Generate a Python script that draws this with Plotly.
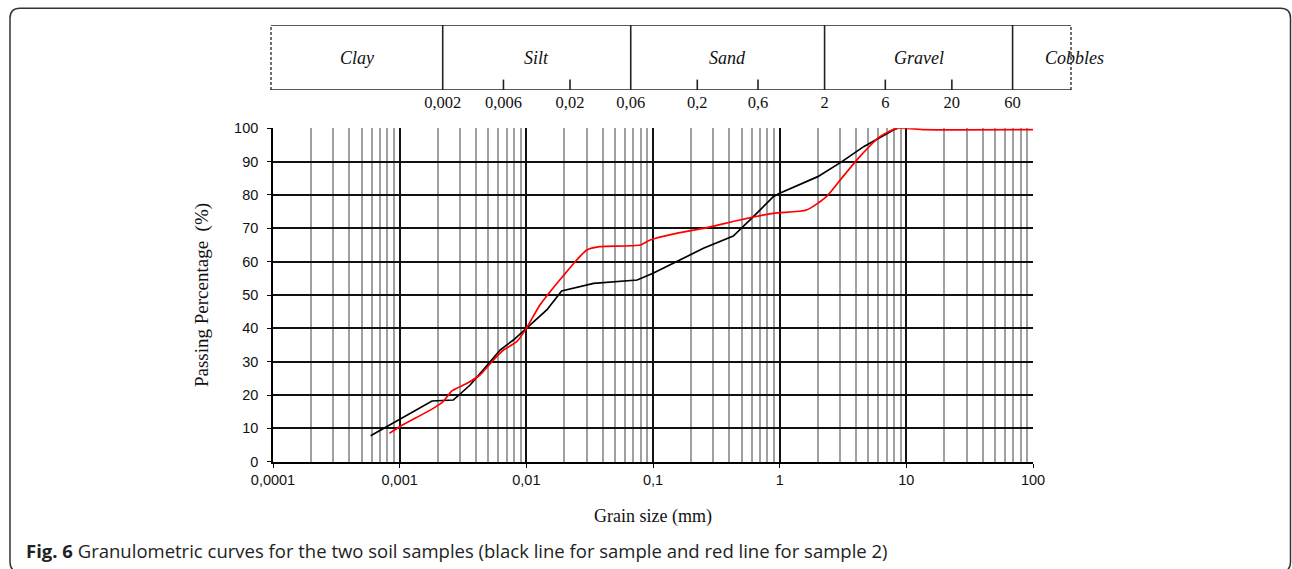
import numpy as np
import plotly.graph_objects as go

# ---------------- data ----------------
sample1_size = [0.00059, 0.0018, 0.00265, 0.0036, 0.0052, 0.0062, 0.0079, 0.01, 0.0145, 0.019,
                0.034, 0.075, 0.1, 0.25, 0.43, 0.62, 0.89, 1.0, 2.0, 3.1, 4.6, 7.9, 8.5]
sample1_pass = [7.8, 18.2, 18.5, 23, 30, 33.5, 36.5, 40, 45.5, 51.2,
                53.5, 54.5, 56.5, 64, 67.7, 73.5, 79.5, 80.5, 85.5, 90, 94.5, 99.5, 100]

sample2_size = [0.00083, 0.001, 0.00184, 0.0022, 0.0026, 0.0034, 0.0043, 0.0055, 0.0066, 0.0084,
                0.01, 0.0113, 0.0128, 0.0158, 0.0195, 0.025, 0.03, 0.038, 0.079, 0.095, 0.153,
                0.25, 0.485, 0.89, 1.63, 2.34, 3.16, 4.29, 6.18, 8.4, 14, 100]
sample2_pass = [8.5, 10.5, 16, 18, 21.3, 23.5, 26, 30.5, 33.5, 36,
                40, 43.5, 47, 51.5, 55.7, 60.5, 63.5, 64.5, 65, 66.5, 68.5,
                70, 72.5, 74.5, 75.5, 79.5, 85.5, 91.5, 97.5, 100, 99.6, 99.6]

x_tickvals = [0.0001, 0.001, 0.01, 0.1, 1, 10, 100]
x_ticktext = ["0,0001", "0,001", "0,01", "0,1", "1", "10", "100"]
y_tickvals = [0, 10, 20, 30, 40, 50, 60, 70, 80, 90, 100]

class_names = ["Clay", "Silt", "Sand", "Gravel", "Cobbles"]
class_bounds = [0.002, 0.06, 2, 60]
band_ticks = [0.006, 0.02, 0.2, 0.6, 6, 20]
band_tickvals = [0.002, 0.006, 0.02, 0.06, 0.2, 0.6, 2, 6, 20, 60]
band_ticktext = ["0,002", "0,006", "0,02", "0,06", "0,2", "0,6", "2", "6", "20", "60"]

caption = ("<b>Fig. 6</b> Granulometric curves for the two soil samples "
           "(black line for sample and red line for sample 2)")

# ---------------- layout constants ----------------
W, H = 1292, 569
ML, MR, MT, MB = 271, 221, 25, 107
PW, PH = W - ML - MR, H - MT - MB
band_range = [-4.048, 2.237]  # log10 range of the classification band


def px_x(p):
    return (p - ML) / PW


def px_y(p):
    return (H - MB - p) / PH


minor_vals = [m * 10.0 ** e for e in range(-4, 2) for m in range(2, 10)]

fig = go.Figure()

fig.add_trace(go.Scatter(x=sample1_size, y=sample1_pass, mode="lines",
                         line=dict(color="#000000", width=1.7), xaxis="x", yaxis="y",
                         name="Sample 1"))
fig.add_trace(go.Scatter(x=sample2_size, y=sample2_pass, mode="lines",
                         line=dict(color="#ff0000", width=1.7, shape="spline", smoothing=0.6),
                         xaxis="x", yaxis="y", name="Sample 2"))

# classification band: dividers and small ticks
div_x, div_y = [], []
for b in class_bounds:
    div_x += [b, b, None]
    div_y += [0, 1, None]
fig.add_trace(go.Scatter(x=div_x, y=div_y, mode="lines", line=dict(color="#222", width=1.6),
                         xaxis="x2", yaxis="y2", hoverinfo="skip"))
tk_x, tk_y = [], []
for b in band_ticks:
    tk_x += [b, b, None]
    tk_y += [0, 0.16, None]
fig.add_trace(go.Scatter(x=tk_x, y=tk_y, mode="lines", line=dict(color="#222", width=1.6),
                         xaxis="x2", yaxis="y2", hoverinfo="skip"))

main_dom_x = [px_x(273), px_x(1033)]
main_dom_y = [px_y(461.7), px_y(128.3)]
band_dom_y = [px_y(90), 1.0]

tick_font = dict(family="Liberation Sans, Arial", size=14.5, color="#111")

fig.update_layout(
    width=W, height=H,
    margin=dict(l=ML, r=MR, t=MT, b=MB, autoexpand=False),
    paper_bgcolor="white", plot_bgcolor="white",
    showlegend=False,
    template="none",
    xaxis=dict(
        type="log", range=[-4, 2], domain=main_dom_x, anchor="y",
        tickmode="array", tickvals=x_tickvals, ticktext=x_ticktext,
        ticks="outside", ticklen=4, tickcolor="#000", tickwidth=1.2,
        tickfont=tick_font,
        showgrid=True, gridcolor="#111", gridwidth=1.6,
        minor=dict(tickmode="array", tickvals=minor_vals, showgrid=True,
                   gridcolor="#a0a0a0", gridwidth=2, ticks=""),
        showline=True, linecolor="#000", linewidth=1.6, mirror=False,
        zeroline=False, automargin=False,
        title=dict(text="Grain size (mm)", standoff=22,
                   font=dict(family="Liberation Serif, Times New Roman", size=18, color="#111")),
    ),
    yaxis=dict(
        range=[0, 100], domain=main_dom_y, anchor="x",
        tickmode="array", tickvals=y_tickvals,
        ticks="outside", ticklen=4, tickcolor="#000", tickwidth=1.2,
        tickfont=tick_font, ticklabelstandoff=6,
        showgrid=True, gridcolor="#111", gridwidth=1.6,
        showline=True, linecolor="#000", linewidth=1.6,
        zeroline=False, automargin=False,
        title=dict(text="Passing Percentage  (%)", standoff=20,
                   font=dict(family="Liberation Serif, Times New Roman", size=19, color="#111")),
    ),
    xaxis2=dict(
        type="log", range=band_range, domain=[0, 1], anchor="y2",
        tickmode="array", tickvals=band_tickvals, ticktext=band_ticktext,
        ticks="", showgrid=False, showline=False, zeroline=False,
        tickfont=dict(family="Liberation Serif, Times New Roman", size=16.5, color="#111"),
        automargin=False,
    ),
    yaxis2=dict(range=[0, 1], domain=band_dom_y, anchor="x2", visible=False,
                automargin=False),
)

shapes = [
    dict(type="line", xref="x2 domain", yref="y2", x0=0, x1=1, y0=1, y1=1,
         line=dict(color="#222", width=1.6)),
    dict(type="line", xref="x2 domain", yref="y2", x0=0, x1=1, y0=0, y1=0,
         line=dict(color="#222", width=1.6)),
    dict(type="line", xref="x2 domain", yref="y2", x0=0, x1=0, y0=0, y1=1,
         line=dict(color="#222", width=1.3, dash="3px,2px")),
    dict(type="line", xref="x2 domain", yref="y2", x0=1, x1=1, y0=0, y1=1,
         line=dict(color="#222", width=1.3, dash="3px,2px")),
]

# rounded outer frame
x0, x1 = px_x(10), px_x(1290.5)
y0, y1 = px_y(572), px_y(8.3)
rx, ry = 10 / PW, 10 / PH
path = (f"M {x0},{y0 + ry} L {x0},{y1 - ry} Q {x0},{y1} {x0 + rx},{y1} "
        f"L {x1 - rx},{y1} Q {x1},{y1} {x1},{y1 - ry} L {x1},{y0 + ry} "
        f"Q {x1},{y0} {x1 - rx},{y0} L {x0 + rx},{y0} Q {x0},{y0} {x0},{y0 + ry} Z")
shapes.append(dict(type="path", xref="paper", yref="paper", path=path,
                   line=dict(color="#333", width=1.5), fillcolor="rgba(0,0,0,0)"))
fig.update_layout(shapes=shapes)

# class labels in the band (centred in log space between boundaries)
edges = [band_range[0]] + [np.log10(b) for b in class_bounds]
annots = []
for i, name in enumerate(class_names[:-1]):
    annots.append(dict(xref="x2", yref="y2", x=(edges[i] + edges[i + 1]) / 2, y=0.5,
                       text=f"<i>{name}</i>", showarrow=False, xanchor="center", yanchor="middle",
                       font=dict(family="Liberation Serif, Times New Roman", size=18, color="#111")))
annots.append(dict(xref="x2 domain", yref="y2", x=1.004, y=0.5, text=f"<i>{class_names[-1]}</i>",
                   showarrow=False, xanchor="center", yanchor="middle",
                   font=dict(family="Liberation Serif, Times New Roman", size=18, color="#111")))
annots.append(dict(xref="paper", yref="paper", x=px_x(24), y=px_y(550), text=caption,
                   showarrow=False, xanchor="left", yanchor="middle",
                   font=dict(family="Open Sans", size=18.5, color="#222")))
fig.update_layout(annotations=annots)

fig.write_html("out.html")
